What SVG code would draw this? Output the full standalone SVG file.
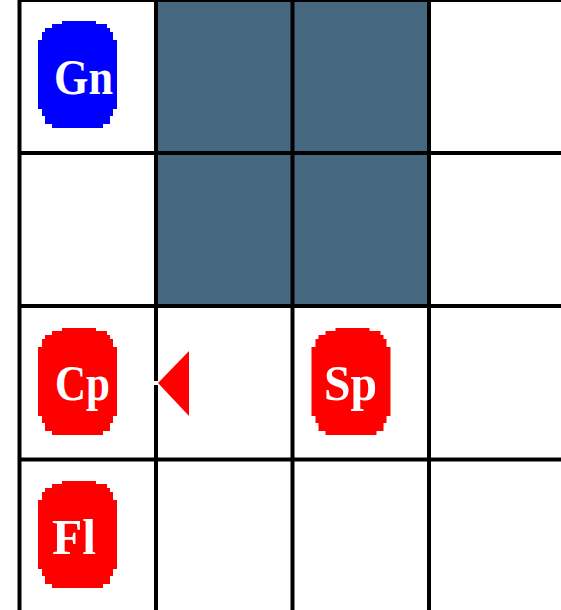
<svg xmlns="http://www.w3.org/2000/svg" xmlns:xlink="http://www.w3.org/1999/xlink" width="561" height="610" viewBox="0 0 561 610">
  <style>
    .grid { stroke: #000; stroke-width: 4; fill: none; }
    .wall { fill: #466780; }
    .lbl { font-family: "Liberation Serif", "DejaVu Serif", serif; font-size: 50px; font-weight: bold; fill: #fff; text-anchor: middle; }
    .red { fill: #ff0000; }
    .blue { fill: #0000ff; }
  </style>
  <defs>
    <path id="tok" d="M24,0 H58 V3 H69 V7 H72 V11 H75 V19 H79 V88 H75 V95 H72 V103 H65 V107 H14 V103 H7 V95 H4 V88 H0 V19 H4 V11 H7 V7 H14 V3 H24 Z"/>
  </defs>
  <rect width="561" height="610" fill="#fff"/>
  <g id="walls">
    <rect class="wall" x="156" y="0" width="273" height="306"/>
  </g>
  <g id="grid" class="grid">
    <line x1="18" y1="0" x2="561" y2="0"/>
    <line x1="18" y1="153" x2="561" y2="153"/>
    <line x1="18" y1="306" x2="561" y2="306"/>
    <line x1="18" y1="459.5" x2="561" y2="459.5"/>
    <line x1="19.5" y1="0" x2="19.5" y2="610"/>
    <line x1="156" y1="0" x2="156" y2="610"/>
    <line x1="292.5" y1="0" x2="292.5" y2="610"/>
    <line x1="429" y1="0" x2="429" y2="610"/>
  </g>
  <g id="Gn">
    <use xlink:href="#tok" class="blue" x="38" y="21"/>
    <text class="lbl" x="83.5" y="94" textLength="59" lengthAdjust="spacingAndGlyphs">Gn</text>
  </g>
  <g id="Cp">
    <use xlink:href="#tok" class="red" x="38" y="328"/>
    <text class="lbl" x="82.5" y="400" textLength="55" lengthAdjust="spacingAndGlyphs">Cp</text>
  </g>
  <g id="Sp">
    <use xlink:href="#tok" class="red" x="311.5" y="328"/>
    <text class="lbl" x="350.5" y="400" textLength="53" lengthAdjust="spacingAndGlyphs">Sp</text>
  </g>
  <g id="Fl">
    <use xlink:href="#tok" class="red" x="38" y="481"/>
    <text class="lbl" x="74" y="554" textLength="44" lengthAdjust="spacingAndGlyphs">Fl</text>
  </g>
  <g id="connectors">
    <rect x="153" y="381" width="5" height="4" fill="#fff"/>
    <polygon class="red" points="158,383 189,351 189,416"/>
  </g>
</svg>
